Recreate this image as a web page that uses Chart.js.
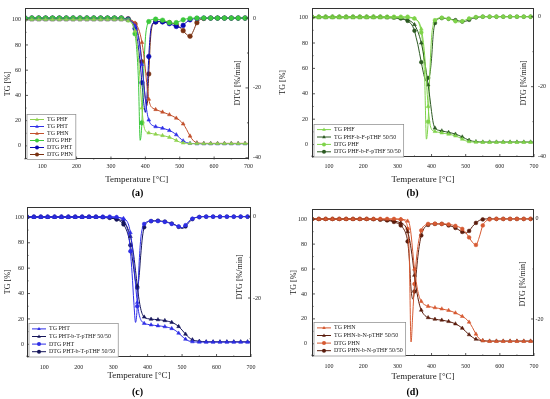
<!DOCTYPE html>
<html>
<head>
<meta charset="utf-8">
<script src="https://cdn.jsdelivr.net/npm/chart.js@4.4.1/dist/chart.umd.min.js"></script>
<style>
  html, body { margin: 0; padding: 0; background: #fff; }
  #fig { position: relative; width: 550px; height: 399px; }
  #fig canvas { position: absolute; }
</style>
</head>
<body>
<div id="fig">
  <canvas id="cA" width="275" height="200" style="left:0;top:0"></canvas>
  <canvas id="cB" width="275" height="200" style="left:275px;top:0"></canvas>
  <canvas id="cC" width="275" height="199" style="left:0;top:200px"></canvas>
  <canvas id="cD" width="275" height="199" style="left:275px;top:200px"></canvas>
</div>
<script>
// temperature grid [°C]
const temps = [50,70,90,110,130,150,170,190,210,230,250,270,290,310,
  320,325,330,335,340,345,350,355,360,365,370,375,380,385,390,395,400,405,410,415,420,
  430,440,450,460,470,480,490,500,510,520,530,540,550,560,
  570,590,610,630,650,670,690,700];

const xTicks = [100, 200, 300, 400, 500, 600, 700];
const tgTicks = [0, 20, 40, 60, 80, 100];
const dtgTicksAB = [0, -20, -40];
const dtgTicksCD = [0, -20];

// PHF (panels a, b)
const tgPHF = [100,100,100,100,100,100,100,100,100,100,100,100,100,100,
  100,100,100,99.9,99.8,99.6,99.2,98.5,97.5,95.5,91,83,70,50,30,17,12,10.8,10.3,10,9.7,
  9.2,8.7,8.2,7.6,6.8,5.7,4.3,3,2.3,2,1.9,1.8,1.8,1.8,
  1.8,1.8,1.8,1.8,1.8,1.8,1.8,1.8];
const dtgPHF = [0,0,0,0,0,0,0,0,0,0,0,0,0,0,
  0,0,0,-0.1,-0.2,-0.3,-0.5,-0.8,-1.3,-2.4,-4.5,-9,-18,-35,-30,-16,-6,-2.2,-1,-0.6,-0.4,
  -0.3,-0.4,-0.6,-0.9,-1.3,-1.5,-1.3,-0.9,-0.5,-0.2,-0.1,0,0,0,
  0,0,0,0,0,0,0,0];
// PHF-b-F-pTHF 50/50 (panel b)
const tgPHFb = [100,100,100,100,100,100,100,100,100,100,100,99.9,99.7,99.3,
  98.9,98.6,98.3,97.7,97,95.9,94.5,92,89,85,80,73.5,65.5,56.5,47,37,26,17,13,11.8,11.3,
  10.8,10.2,9.6,9,8.2,7.2,6,4.6,3.4,2.7,2.3,2.1,2,2,
  2,2,2,2,2,2,2,2];
const dtgPHFb = [0,0,0,0,0,0,0,0,0,0,0,-0.1,-0.2,-0.5,
  -0.8,-1,-1.2,-1.6,-2,-2.8,-4,-6,-8,-10.5,-13,-15.5,-17.5,-18.5,-17.5,-16.5,-12,-5,-1.8,-0.9,-0.6,
  -0.4,-0.5,-0.6,-0.8,-1,-1.2,-1.4,-1.3,-0.9,-0.5,-0.2,-0.1,0,0,
  0,0,0,0,0,0,0,0];
// PHT (panel a)
const tgPHT = [100,100,100,100,100,100,100,100,100,100,100,100,100,100,
  100,100,100,100,99.9,99.8,99.6,99.2,98.6,97.4,95.2,91.5,85.5,76.5,64.5,50.5,37,26.5,20.5,17.6,16.3,
  15.2,14.6,14,13.2,12.2,10.8,8.8,6.3,4,2.6,2,1.8,1.7,1.7,
  1.7,1.7,1.7,1.7,1.7,1.7,1.7,1.7];
const dtgPHT = [0,0,0,0,0,0,0,0,0,0,0,0,0,0,
  0,0,0,0,-0.1,-0.2,-0.3,-0.5,-0.9,-1.6,-3,-5.2,-8.5,-13,-18.5,-24,-27,-22,-11,-4,-1.8,
  -1.1,-1,-1.1,-1.3,-1.6,-2,-2.4,-2.7,-2.1,-1.1,-0.5,-0.2,-0.1,0,
  0,0,0,0,0,0,0,0];
// PHT (panel c)
const tgPHTc = [100,100,100,100,100,100,100,100,100,100,100,100,100,100,
  99.8,99.6,99.2,98.5,97,94,88,78,63,47,33,24,19.5,17.5,16.5,16,15.7,15.5,15.3,15.1,14.9,
  14.6,14.3,13.9,13.3,12.4,11,8.8,6.3,4,2.6,2,1.8,1.7,1.7,
  1.7,1.7,1.7,1.7,1.7,1.7,1.7,1.7];
const dtgPHTc = [0,0,0,0,0,0,0,0,0,0,0,0,0,-0.1,
  -0.3,-0.5,-0.8,-1.4,-2.5,-4.5,-8.5,-14,-21,-26,-22,-12,-5.5,-2.8,-1.8,-1.4,-1.2,-1.1,-1.1,-1.1,-1.1,
  -1.1,-1.2,-1.3,-1.5,-1.8,-2.1,-2.4,-2.7,-2.1,-1.1,-0.5,-0.2,-0.1,0,
  0,0,0,0,0,0,0,0];
// PHT-b-T-pTHF 50/50 (panel c)
const tgPHTb = [100,100,100,100,100,100,100,100,100,100,100,99.9,99.6,98.8,
  98,97.3,96.3,94.8,92.6,89.5,85,78.5,69.5,58,46,35.5,28,23.5,21.5,20.6,20.2,20,19.8,19.7,19.6,
  19.4,19.1,18.7,18.1,17.3,16,14,11.2,8,5.3,3.6,2.8,2.4,2.2,
  2,2,2,2,2,2,2,2];
const dtgPHTb = [0,0,0,0,0,0,0,0,0,0,0,-0.1,-0.3,-0.7,
  -1.1,-1.4,-1.9,-2.6,-3.6,-5,-7,-9.8,-13,-16,-17.5,-15,-9.5,-5,-2.6,-1.7,-1.3,-1.1,-1.1,-1,-1,
  -1,-1.1,-1.2,-1.4,-1.7,-2,-2.5,-2.9,-2.4,-1.4,-0.6,-0.2,-0.1,0,
  0,0,0,0,0,0,0,0];
// PHN (panel a)
const tgPHN = [100,100,100,100,100,100,100,100,100,100,100,100,100,100,
  100,100,100,100,99.9,99.8,99.7,99.5,99.1,98.5,97.4,95.6,92.8,88.5,82,73,61,47,37,32,30.2,
  28.8,27.8,26.8,25.8,24.7,23.5,22,20.2,17.4,13,7.8,4,2.5,2.1,
  2,2,2,2,2,2,2,2];
const dtgPHN = [0,0,0,0,0,0,0,0,0,0,0,0,0,0,
  0,0,0,0,-0.1,-0.15,-0.2,-0.4,-0.6,-1,-1.7,-3,-5,-8,-12.5,-18,-23,-25,-16,-6,-2.2,
  -1.1,-0.9,-1,-1.1,-1.3,-1.5,-1.9,-2.6,-3.6,-4.7,-5.2,-3.6,-1.3,-0.4,
  -0.1,0,0,0,0,0,0,0];
// PHN (panel d)
const tgPHNd = [100,100,100,100,100,100,100,100,100,100,100,100,100,100,
  99.7,99.3,98.5,96.5,88,74,60,50,42,37,34,32.3,31.3,30.6,30.1,29.8,29.5,29.2,29,28.7,28.5,
  28,27.4,26.8,25.9,24.8,23.5,22,20.2,17.4,13,7.8,4,2.5,2.1,
  2,2,2,2,2,2,2,2];
const dtgPHNd = [0,0,0,0,0,0,0,0,0,0,0,0,0,-0.1,
  -0.3,-0.7,-2,-8,-24.6,-19,-13,-8.5,-5.5,-3.5,-2.3,-1.6,-1.3,-1.1,-1,-1,-0.95,-0.95,-0.95,-1,-1,
  -1,-1,-1.1,-1.2,-1.4,-1.6,-2,-2.7,-3.7,-4.7,-5.2,-3.6,-1.3,-0.4,
  -0.1,0,0,0,0,0,0,0];
// PHN-b-N-pTHF 50/50 (panel d)
const tgPHNb = [100,100,100,100,100,100,100,100,100,99.9,99.7,99.3,98.6,97,
  95.5,93.5,90,84.5,76.5,66.5,55,45,37,31,27,24.5,22.8,21.7,21,20.6,20.2,19.9,19.7,19.5,19.3,
  19,18.5,17.9,17.1,16,14.5,12.5,9.9,7.3,5.2,3.7,2.9,2.5,2.3,
  2.2,2.2,2.2,2.2,2.2,2.2,2.2,2.2];
const dtgPHNb = [0,0,0,0,0,0,0,0,0,-0.05,-0.15,-0.3,-0.6,-1.3,
  -2.2,-3,-4.5,-8,-14,-16,-14.5,-11,-7.5,-5,-3.3,-2.3,-1.7,-1.4,-1.2,-1.1,-1,-1,-1,-1,-1,
  -1,-1.1,-1.3,-1.5,-1.8,-2.2,-2.6,-2.8,-2.4,-1.5,-0.8,-0.3,-0.1,0,
  0,0,0,0,0,0,0,0];

const FONT = '"Liberation Serif", "DejaVu Serif", serif';
const INK = '#1a1a1a';

const pts = vals => temps.map((t, i) => ({ x: t, y: vals[i] }));
// markers every 20 °C, like the original plot
const markerR = r => ctx => (temps[ctx.dataIndex] % 20 === 10 ? r : 0);

function tgSet(label, vals, color) {
  return {
    label, data: pts(vals), yAxisID: 'y',
    borderColor: color, backgroundColor: color, pointBackgroundColor: color,
    borderWidth: 1, pointStyle: 'triangle', pointRadius: markerR(2.2), pointBorderWidth: 0.5,
    cubicInterpolationMode: 'monotone'
  };
}
function dtgSet(label, vals, color, r) {
  return {
    label, data: pts(vals), yAxisID: 'y2',
    borderColor: color, backgroundColor: color, pointBackgroundColor: color,
    borderWidth: 1, pointStyle: 'circle', pointRadius: markerR(r || 1.9), pointBorderWidth: 0.5,
    cubicInterpolationMode: 'monotone'
  };
}

// draws frame, inward ticks, the DTG title inside the plot and the legend box
function decor(p) {
  return {
    id: 'decor',
    afterDraw(chart) {
      const { ctx, chartArea: a, scales } = chart;
      ctx.save();
      ctx.strokeStyle = '#333';
      ctx.lineWidth = 1;
      ctx.strokeRect(Math.round(a.left) + 0.5, Math.round(a.top) + 0.5,
        Math.round(a.right - a.left) - 1, Math.round(a.bottom - a.top) - 1);
      const tick = (x1, y1, x2, y2) => { ctx.beginPath(); ctx.moveTo(x1, y1); ctx.lineTo(x2, y2); ctx.stroke(); };
      ctx.lineWidth = 0.8;
      for (let v = 50; v <= 700; v += 50) {
        const x = scales.x.getPixelForValue(v);
        tick(x, a.bottom, x, a.bottom - (v % 100 === 0 ? 3 : 1.5));
      }
      for (let v = -10; v <= 100; v += 10) {
        const y = scales.y.getPixelForValue(v);
        tick(a.left, y, a.left + (v % 20 === 0 ? 3 : 1.5), y);
      }
      for (let v = 0; v >= p.dtg[0]; v -= 10) {
        const y = scales.y2.getPixelForValue(v);
        tick(a.right, y, a.right - (v % 20 === 0 ? 3 : 1.5), y);
      }
      // DTG title
      ctx.save();
      ctx.translate(p.dtgTitle.x, p.dtgTitle.y);
      ctx.rotate(-Math.PI / 2);
      ctx.font = '8px ' + FONT;
      ctx.fillStyle = INK;
      ctx.textAlign = 'center';
      ctx.textBaseline = 'middle';
      ctx.fillText('DTG [%/min]', 0, 0);
      ctx.restore();
      // legend
      const items = chart.data.datasets;
      ctx.font = '6px ' + FONT;
      const textW = Math.max(...items.map(d => ctx.measureText(d.label).width));
      const rowH = p.legendRow;
      const boxH = items.length * rowH + 3;
      const bx = a.left + 2, by = a.bottom - boxH, bw = textW + 23;
      ctx.fillStyle = '#fff';
      ctx.fillRect(bx, by, bw, boxH);
      ctx.strokeStyle = '#888';
      ctx.lineWidth = 0.7;
      ctx.strokeRect(bx, by, bw, boxH);
      items.forEach((d, i) => {
        const cy = by + 1.5 + rowH * (i + 0.5);
        ctx.strokeStyle = d.borderColor;
        ctx.fillStyle = d.borderColor;
        ctx.lineWidth = 1;
        tick(bx + 3, cy, bx + 17, cy);
        const mx = bx + 10, r = 2;
        ctx.beginPath();
        if (d.pointStyle === 'triangle') {
          ctx.moveTo(mx, cy - r);
          ctx.lineTo(mx + r * 0.9, cy + r * 0.6);
          ctx.lineTo(mx - r * 0.9, cy + r * 0.6);
          ctx.closePath();
        } else {
          ctx.arc(mx, cy, r, 0, Math.PI * 2);
        }
        ctx.fill();
        ctx.fillStyle = INK;
        ctx.textAlign = 'left';
        ctx.textBaseline = 'middle';
        ctx.fillText(d.label, bx + 20, cy);
      });
      ctx.restore();
    }
  };
}

function makePanel(p) {
  const W = p.w, H = p.h;
  const titleBox = 12 + p.labelPad;
  const tickFont = { family: FONT, size: 6 };
  new Chart(document.getElementById(p.canvas), {
    type: 'line',
    data: { datasets: p.datasets },
    options: {
      responsive: false,
      animation: false,
      events: [],
      layout: { padding: { top: p.frame.t, left: 0, right: 0, bottom: 0 } },
      plugins: {
        legend: { display: false },
        tooltip: { enabled: false },
        title: {
          display: true, text: p.label, position: 'bottom', color: '#000',
          font: { family: FONT, size: 10, weight: 'bold' },
          padding: { top: 0, bottom: p.labelPad }
        }
      },
      scales: {
        x: {
          type: 'linear', min: 50, max: 700,
          afterBuildTicks: s => { s.ticks = xTicks.map(v => ({ value: v })); },
          afterFit: s => { s.height = H - titleBox - p.frame.b; },
          grid: { display: false, drawTicks: false },
          border: { display: false },
          ticks: { font: tickFont, color: INK, padding: p.xTickPad, maxRotation: 0 },
          title: {
            display: true, text: 'Temperature [°C]', color: INK,
            font: { family: FONT, size: 9 }, padding: { top: 0, bottom: p.xTitlePad }
          }
        },
        y: {
          position: 'left', min: p.tg[0], max: p.tg[1],
          afterBuildTicks: s => { s.ticks = tgTicks.map(v => ({ value: v })); },
          afterFit: s => { s.width = p.frame.l; },
          grid: { display: false, drawTicks: false },
          border: { display: false },
          ticks: { font: tickFont, color: INK, padding: p.yTickPad },
          title: {
            display: true, text: 'TG [%]', color: INK,
            font: { family: FONT, size: 8 }, padding: { top: p.yTitlePad, bottom: 0 }
          }
        },
        y2: {
          position: 'right', min: p.dtg[0], max: p.dtg[1],
          afterBuildTicks: s => { s.ticks = p.dtgTicks.map(v => ({ value: v })); },
          afterFit: s => { s.width = W - p.frame.r; },
          grid: { display: false, drawTicks: false },
          border: { display: false },
          ticks: { font: tickFont, color: INK, padding: p.y2TickPad }
        }
      }
    },
    plugins: [decor(p)]
  });
}

makePanel({
  canvas: 'cA', label: '(a)', w: 275, h: 200,
  frame: { l: 25, r: 248.5, t: 3, b: 159.5 },
  tg: [-10.8, 109.2], dtg: [-40.5, 2.86], dtgTicks: dtgTicksAB,
  xTickPad: 3, xTitlePad: 1.6, labelPad: 1, yTitlePad: 3.2, yTickPad: 4, y2TickPad: 4.5,
  dtgTitle: { x: 238, y: 83 }, legendRow: 7,
  datasets: [
    tgSet('TG PHF', tgPHF, '#8fd24e'),
    tgSet('TG PHT', tgPHT, '#2f2fe8'),
    tgSet('TG PHN', tgPHN, '#c2502c'),
    dtgSet('DTG PHF', dtgPHF, '#3cc83c', 2.3),
    dtgSet('DTG PHT', dtgPHT, '#0a0ab4', 2.3),
    dtgSet('DTG PHN', dtgPHN, '#7a3212', 2.3)
  ]
});

makePanel({
  canvas: 'cB', label: '(b)', w: 275, h: 200,
  frame: { l: 37, r: 259, t: 4, b: 157 },
  tg: [-9.8, 107.9], dtg: [-40.1, 2.6], dtgTicks: dtgTicksAB,
  xTickPad: 5.5, xTitlePad: 1.6, labelPad: 1, yTitlePad: 3.5, yTickPad: 4, y2TickPad: 4,
  dtgTitle: { x: 248.5, y: 83 }, legendRow: 7.4,
  datasets: [
    tgSet('TG PHF', tgPHF, '#7fd34a'),
    tgSet('TG PHF-b-F-pTHF 50/50', tgPHFb, '#2c5a22'),
    dtgSet('DTG PHF', dtgPHF, '#7fd34a'),
    dtgSet('DTG PHF-b-F-pTHF 50/50', dtgPHFb, '#2c5a22')
  ]
});

makePanel({
  canvas: 'cC', label: '(c)', w: 275, h: 199,
  frame: { l: 27, r: 251, t: 3, b: 157 },
  tg: [-10, 108.5], dtg: [-34.5, 2.47], dtgTicks: dtgTicksCD,
  xTickPad: 6.5, xTitlePad: 5.6, labelPad: 0.3, yTitlePad: 3.2, yTickPad: 3, y2TickPad: 2,
  dtgTitle: { x: 240, y: 77 }, legendRow: 7.6,
  datasets: [
    tgSet('TG PHT', tgPHTc, '#2e2ee6'),
    tgSet('TG PHT-b-T-pTHF 50/50', tgPHTb, '#15155a'),
    dtgSet('DTG PHT', dtgPHTc, '#2e2ee6'),
    dtgSet('DTG PHT-b-T-pTHF 50/50', dtgPHTb, '#15155a')
  ]
});

makePanel({
  canvas: 'cD', label: '(d)', w: 275, h: 199,
  frame: { l: 37, r: 259, t: 3, b: 156 },
  tg: [-9.8, 108.5], dtg: [-27.4, 2.06], dtgTicks: dtgTicksCD,
  xTickPad: 6.5, xTitlePad: 4.6, labelPad: 0.3, yTitlePad: 14, yTickPad: 5, y2TickPad: 1.5,
  dtgTitle: { x: 248, y: 84 }, legendRow: 7.6,
  datasets: [
    tgSet('TG PHN', tgPHNd, '#d65a32'),
    tgSet('TG PHN-b-N-pTHF 50/50', tgPHNb, '#5a1c0c'),
    dtgSet('DTG PHN', dtgPHNd, '#d65a32'),
    dtgSet('DTG PHN-b-N-pTHF 50/50', dtgPHNb, '#5a1c0c')
  ]
});
</script>
</body>
</html>
